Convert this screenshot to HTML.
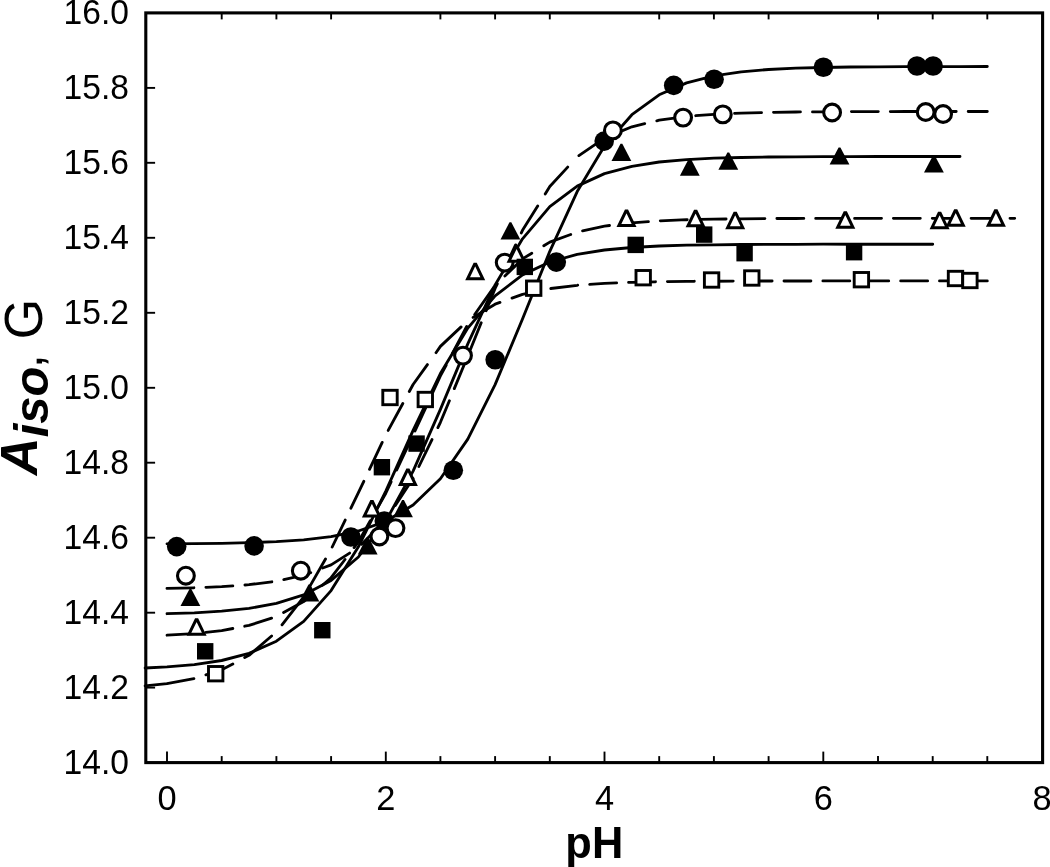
<!DOCTYPE html>
<html><head><meta charset="utf-8"><title>Aiso vs pH</title>
<style>html,body{margin:0;padding:0;background:#fff}svg{display:block}text{font-family:"Liberation Sans",sans-serif;fill:#000}</style></head><body>
<svg width="1050" height="867" viewBox="0 0 1050 867">
<rect width="1050" height="867" fill="#fff"/>
<g fill="none" stroke="#000" stroke-width="2.85" stroke-linecap="round" stroke-linejoin="round">
<polyline points="167.0,543.8 194.3,543.6 221.7,543.3 249.0,542.7 276.4,541.7 303.7,539.8 331.1,536.6 358.4,531.0 385.8,521.3 413.1,505.0 440.4,478.7 467.8,439.1 495.1,384.6 522.5,319.0 549.8,251.3 577.2,191.6 604.5,145.9 631.9,114.7 659.2,94.8 686.6,82.9 713.9,75.8 741.2,71.8 768.6,69.5 795.9,68.2 823.3,67.5 850.6,67.0 878.0,66.8 905.3,66.7 932.7,66.6 960.0,66.6 987.3,66.5"/>
<path d="M167.0,588.4 L193.9,587.8 M205.9,587.3 L221.7,586.7 L232.8,585.9 M244.9,585.0 L249.0,584.7 L271.8,581.8 M283.8,579.6 L303.7,575.2 L310.7,572.6 M322.7,568.0 L331.1,564.9 L349.6,553.1 M361.6,544.3 L385.8,519.9 L387.4,517.4 M395.3,505.4 L413.0,478.5 M418.9,466.5 L432.0,439.6 M437.9,427.6 L440.4,422.3 L449.4,400.7 M454.3,388.6 L465.4,361.7 M470.3,349.7 L481.2,322.8 M486.1,310.8 L495.1,288.5 L497.3,283.9 M503.0,271.8 L515.6,244.9 M521.3,232.9 L522.5,230.3 L537.7,206.0 M545.2,194.0 L549.8,186.5 L567.7,167.1 M578.9,155.6 L604.5,138.1 L605.8,137.5 M617.8,132.6 L631.9,126.8 L644.7,123.7 M656.8,120.8 L659.2,120.2 L683.7,116.8 M695.7,115.7 L713.9,114.3 L722.6,113.9 M734.6,113.4 L741.2,113.1 L761.5,112.6 M773.5,112.3 L795.9,112.0 L800.4,111.9 M812.5,111.9 L823.3,111.8 L839.4,111.7 M851.4,111.6 L878.0,111.6 L878.3,111.6 M890.3,111.6 L905.3,111.5 L917.2,111.5 M929.3,111.5 L932.7,111.5 L956.2,111.5 M968.2,111.5 L987.3,111.5"/>
<polyline points="167.0,613.7 194.3,612.8 221.7,611.2 249.0,608.4 276.4,603.4 303.7,594.9 331.1,580.4 358.4,557.0 385.8,521.2 413.1,471.1 440.4,409.4 467.8,343.9 495.1,284.9 522.5,238.8 549.8,206.7 577.2,186.1 604.5,173.6 631.9,166.3 659.2,162.0 686.6,159.6 713.9,158.2 741.2,157.5 768.6,157.0 795.9,156.8 823.3,156.6 850.6,156.6 878.0,156.5 905.3,156.5 932.7,156.5 960.0,156.5"/>
<path d="M167.0,635.2 L193.9,633.6 M205.8,632.3 L221.7,630.6 L232.8,628.5 M244.7,626.2 L249.0,625.4 L271.6,618.1 M283.6,612.6 L303.7,601.6 L310.5,595.8 M322.4,585.3 L331.1,577.7 L345.0,559.5 M354.1,547.6 L358.4,541.9 L370.3,520.7 M377.0,508.7 L385.8,493.2 L391.1,481.8 M396.7,469.9 L409.4,443.0 M415.0,431.0 L427.4,404.1 M432.9,392.2 L440.4,375.9 L446.1,365.3 M452.4,353.3 L466.7,326.4 M474.7,314.5 L493.6,287.6 M504.9,275.9 L522.5,258.9 L531.8,253.2 M543.8,245.8 L549.8,242.1 L570.7,234.5 M582.6,230.9 L604.5,226.2 L609.5,225.5 M621.5,224.1 L631.9,222.8 L648.4,221.6 M660.3,220.8 L686.6,219.7 L687.2,219.7 M699.2,219.4 L713.9,219.1 L726.1,219.0 M738.0,218.8 L741.2,218.8 L764.9,218.6 M776.9,218.5 L795.9,218.5 L803.8,218.4 M815.7,218.4 L823.3,218.4 L842.6,218.4 M854.6,218.4 L878.0,218.3 L881.5,218.3 M893.4,218.3 L905.3,218.3 L920.3,218.3 M932.3,218.3 L932.7,218.3 L959.2,218.3 M971.1,218.3 L987.3,218.3 L998.0,218.3 M1010.0,218.3 L1014.7,218.3"/>
<polyline points="145.1,668.0 167.0,666.9 194.3,664.6 221.7,660.5 249.0,653.3 276.4,641.2 303.7,621.4 331.1,590.6 358.4,546.8 385.8,491.1 413.1,430.3 440.4,373.6 467.8,328.1 495.1,295.8 522.5,274.9 549.8,262.0 577.2,254.4 604.5,250.0 631.9,247.5 659.2,246.0 686.6,245.2 713.9,244.8 741.2,244.5 768.6,244.4 795.9,244.3 823.3,244.2 850.6,244.2 878.0,244.2 905.3,244.2 932.7,244.2"/>
<path d="M145.1,685.9 L167.0,683.6 M167.0,683.6 L193.9,678.6 M205.9,674.9 L221.7,669.8 L232.8,664.0 M244.7,657.6 L249.0,655.3 L271.6,636.0 M282.0,624.8 L303.0,597.9 M310.1,585.9 L325.5,559.0 M332.2,547.0 L345.2,520.1 M350.9,508.2 L358.4,492.7 L363.8,481.3 M369.5,469.3 L382.2,442.4 M388.2,430.4 L402.8,403.5 M409.3,391.5 L413.1,384.5 L427.4,364.6 M436.0,352.7 L440.4,346.4 L461.1,326.9 M473.1,317.4 L495.1,304.2 L500.0,302.4 M512.0,298.1 L522.5,294.3 L538.9,290.9 M550.8,288.5 L577.2,285.3 L577.7,285.2 M589.7,284.4 L604.5,283.4 L616.6,282.9 M628.6,282.4 L631.9,282.3 L655.5,281.8 M667.4,281.6 L686.6,281.4 L694.3,281.3 M706.3,281.2 L713.9,281.2 L733.2,281.1 M745.2,281.0 L768.6,281.0 L772.1,281.0 M784.0,281.0 L795.9,281.0 L810.9,281.0 M822.9,280.9 L823.3,280.9 L849.8,280.9 M861.8,280.9 L878.0,280.9 L888.7,280.9 M900.7,280.9 L905.3,280.9 L927.6,280.9 M939.5,280.9 L960.0,280.9 L966.4,280.9 M978.4,280.9 L987.3,280.9"/>
</g>
<g stroke="#000" stroke-width="3" stroke-linejoin="miter">
<circle cx="176.7" cy="546.6" r="9.8" fill="#000" stroke="none"/>
<circle cx="254.1" cy="545.9" r="9.8" fill="#000" stroke="none"/>
<circle cx="350.9" cy="537.0" r="9.8" fill="#000" stroke="none"/>
<circle cx="384.3" cy="521.0" r="9.8" fill="#000" stroke="none"/>
<circle cx="453.3" cy="470.2" r="9.8" fill="#000" stroke="none"/>
<circle cx="495.2" cy="359.8" r="9.8" fill="#000" stroke="none"/>
<circle cx="556.3" cy="262.1" r="9.8" fill="#000" stroke="none"/>
<circle cx="604.2" cy="141.1" r="9.8" fill="#000" stroke="none"/>
<circle cx="673.7" cy="85.4" r="9.8" fill="#000" stroke="none"/>
<circle cx="714.1" cy="79.2" r="9.8" fill="#000" stroke="none"/>
<circle cx="823.4" cy="67.3" r="9.8" fill="#000" stroke="none"/>
<circle cx="917.0" cy="66.0" r="9.8" fill="#000" stroke="none"/>
<circle cx="933.1" cy="66.0" r="9.8" fill="#000" stroke="none"/>
<circle cx="185.9" cy="575.7" r="8.4" fill="#fff" stroke-width="3.1"/>
<circle cx="300.8" cy="570.7" r="8.4" fill="#fff" stroke-width="3.1"/>
<circle cx="379.4" cy="536.5" r="8.4" fill="#fff" stroke-width="3.1"/>
<circle cx="395.5" cy="528.1" r="8.4" fill="#fff" stroke-width="3.1"/>
<circle cx="463.0" cy="355.6" r="8.4" fill="#fff" stroke-width="3.1"/>
<circle cx="504.7" cy="262.6" r="8.4" fill="#fff" stroke-width="3.1"/>
<circle cx="612.9" cy="130.4" r="8.4" fill="#fff" stroke-width="3.1"/>
<circle cx="683.1" cy="117.6" r="8.4" fill="#fff" stroke-width="3.1"/>
<circle cx="722.8" cy="114.4" r="8.4" fill="#fff" stroke-width="3.1"/>
<circle cx="832.1" cy="112.5" r="8.4" fill="#fff" stroke-width="3.1"/>
<circle cx="925.7" cy="112.0" r="8.4" fill="#fff" stroke-width="3.1"/>
<circle cx="943.1" cy="114.0" r="8.4" fill="#fff" stroke-width="3.1"/>
<polygon points="189.5,588.9 191.3,588.9 200.3,606.1 180.5,606.1" fill="#000" stroke="none"/>
<polygon points="308.5,584.4 310.3,584.4 319.3,601.6 299.5,601.6" fill="#000" stroke="none"/>
<polygon points="366.8,537.3 368.6,537.3 377.6,554.5 357.8,554.5" fill="#000" stroke="none"/>
<polygon points="402.1,500.1 403.9,500.1 412.9,517.3 393.1,517.3" fill="#000" stroke="none"/>
<polygon points="509.5,222.3 511.3,222.3 520.3,239.5 500.5,239.5" fill="#000" stroke="none"/>
<polygon points="620.5,143.8 622.3,143.8 631.3,161.0 611.5,161.0" fill="#000" stroke="none"/>
<polygon points="688.9,158.5 690.7,158.5 699.7,175.7 679.9,175.7" fill="#000" stroke="none"/>
<polygon points="727.4,152.5 729.2,152.5 738.2,169.7 718.4,169.7" fill="#000" stroke="none"/>
<polygon points="838.6,147.4 840.4,147.4 849.4,164.6 829.6,164.6" fill="#000" stroke="none"/>
<polygon points="933.0,155.4 934.8,155.4 943.8,172.6 924.0,172.6" fill="#000" stroke="none"/>
<polygon points="196.0,619.8 197.2,619.8 204.2,634.2 189.0,634.2" fill="#fff"/>
<polygon points="371.3,501.6 372.5,501.6 379.5,516.0 364.3,516.0" fill="#fff"/>
<polygon points="407.3,470.1 408.5,470.1 415.5,484.6 400.3,484.6" fill="#fff"/>
<polygon points="474.6,264.2 475.8,264.2 482.8,278.8 467.6,278.8" fill="#fff"/>
<polygon points="516.0,246.8 517.2,246.8 524.2,261.2 509.0,261.2" fill="#fff"/>
<polygon points="625.9,211.1 627.1,211.1 634.1,225.6 618.9,225.6" fill="#fff"/>
<polygon points="695.0,211.3 696.2,211.3 703.2,225.8 688.0,225.8" fill="#fff"/>
<polygon points="734.6,213.2 735.8,213.2 742.8,227.7 727.6,227.7" fill="#fff"/>
<polygon points="844.7,212.8 845.9,212.8 852.9,227.3 837.7,227.3" fill="#fff"/>
<polygon points="939.0,213.2 940.2,213.2 947.2,227.7 932.0,227.7" fill="#fff"/>
<polygon points="955.1,210.8 956.3,210.8 963.3,225.3 948.1,225.3" fill="#fff"/>
<polygon points="995.3,210.8 996.5,210.8 1003.5,225.3 988.3,225.3" fill="#fff"/>
<rect x="197.0" y="643.1" width="16.4" height="16.4" fill="#000" stroke="none"/>
<rect x="314.1" y="622.0" width="16.4" height="16.4" fill="#000" stroke="none"/>
<rect x="373.7" y="459.0" width="16.4" height="16.4" fill="#000" stroke="none"/>
<rect x="408.4" y="435.4" width="16.4" height="16.4" fill="#000" stroke="none"/>
<rect x="516.6" y="258.7" width="16.4" height="16.4" fill="#000" stroke="none"/>
<rect x="627.5" y="236.7" width="16.4" height="16.4" fill="#000" stroke="none"/>
<rect x="696.0" y="226.4" width="16.4" height="16.4" fill="#000" stroke="none"/>
<rect x="736.4" y="245.0" width="16.4" height="16.4" fill="#000" stroke="none"/>
<rect x="845.9" y="244.0" width="16.4" height="16.4" fill="#000" stroke="none"/>
<rect x="208.5" y="666.5" width="14.4" height="14.4" fill="#fff" stroke-width="2.9"/>
<rect x="382.8" y="390.3" width="14.4" height="14.4" fill="#fff" stroke-width="2.9"/>
<rect x="418.1" y="392.3" width="14.4" height="14.4" fill="#fff" stroke-width="2.9"/>
<rect x="526.5" y="281.0" width="14.4" height="14.4" fill="#fff" stroke-width="2.9"/>
<rect x="636.0" y="270.5" width="14.4" height="14.4" fill="#fff" stroke-width="2.9"/>
<rect x="704.4" y="272.8" width="14.4" height="14.4" fill="#fff" stroke-width="2.9"/>
<rect x="744.6" y="270.8" width="14.4" height="14.4" fill="#fff" stroke-width="2.9"/>
<rect x="854.2" y="272.5" width="14.4" height="14.4" fill="#fff" stroke-width="2.9"/>
<rect x="948.3" y="271.3" width="14.4" height="14.4" fill="#fff" stroke-width="2.9"/>
<rect x="962.7" y="273.3" width="14.4" height="14.4" fill="#fff" stroke-width="2.9"/>
</g>
<rect x="145.8" y="12.9" width="896.8" height="749.7" fill="none" stroke="#000" stroke-width="3.1"/>
<g stroke="#000" stroke-width="1.9">
<line x1="167.0" y1="762.6" x2="167.0" y2="751.6"/>
<line x1="221.7" y1="762.6" x2="221.7" y2="756.1"/>
<line x1="221.7" y1="12.9" x2="221.7" y2="19.4"/>
<line x1="276.4" y1="762.6" x2="276.4" y2="756.1"/>
<line x1="276.4" y1="12.9" x2="276.4" y2="19.4"/>
<line x1="331.1" y1="762.6" x2="331.1" y2="756.1"/>
<line x1="331.1" y1="12.9" x2="331.1" y2="19.4"/>
<line x1="385.8" y1="762.6" x2="385.8" y2="751.6"/>
<line x1="440.4" y1="762.6" x2="440.4" y2="756.1"/>
<line x1="440.4" y1="12.9" x2="440.4" y2="19.4"/>
<line x1="495.1" y1="762.6" x2="495.1" y2="756.1"/>
<line x1="495.1" y1="12.9" x2="495.1" y2="19.4"/>
<line x1="549.8" y1="762.6" x2="549.8" y2="756.1"/>
<line x1="549.8" y1="12.9" x2="549.8" y2="19.4"/>
<line x1="604.5" y1="762.6" x2="604.5" y2="751.6"/>
<line x1="659.2" y1="762.6" x2="659.2" y2="756.1"/>
<line x1="659.2" y1="12.9" x2="659.2" y2="19.4"/>
<line x1="713.9" y1="762.6" x2="713.9" y2="756.1"/>
<line x1="713.9" y1="12.9" x2="713.9" y2="19.4"/>
<line x1="768.6" y1="762.6" x2="768.6" y2="756.1"/>
<line x1="768.6" y1="12.9" x2="768.6" y2="19.4"/>
<line x1="823.3" y1="762.6" x2="823.3" y2="751.6"/>
<line x1="878.0" y1="762.6" x2="878.0" y2="756.1"/>
<line x1="878.0" y1="12.9" x2="878.0" y2="19.4"/>
<line x1="932.7" y1="762.6" x2="932.7" y2="756.1"/>
<line x1="932.7" y1="12.9" x2="932.7" y2="19.4"/>
<line x1="987.3" y1="762.6" x2="987.3" y2="756.1"/>
<line x1="987.3" y1="12.9" x2="987.3" y2="19.4"/>
<line x1="145.8" y1="687.6" x2="155.1" y2="687.6"/>
<line x1="145.8" y1="612.7" x2="155.1" y2="612.7"/>
<line x1="145.8" y1="537.7" x2="155.1" y2="537.7"/>
<line x1="145.8" y1="462.7" x2="155.1" y2="462.7"/>
<line x1="145.8" y1="387.8" x2="155.1" y2="387.8"/>
<line x1="145.8" y1="312.8" x2="155.1" y2="312.8"/>
<line x1="145.8" y1="237.8" x2="155.1" y2="237.8"/>
<line x1="145.8" y1="162.8" x2="155.1" y2="162.8"/>
<line x1="145.8" y1="87.9" x2="155.1" y2="87.9"/>
</g>
<g>
<text transform="translate(128.9,773.8) scale(1,1.04)" font-size="33.6" text-anchor="end">14.0</text>
<text transform="translate(128.9,698.8) scale(1,1.04)" font-size="33.6" text-anchor="end">14.2</text>
<text transform="translate(128.9,623.9) scale(1,1.04)" font-size="33.6" text-anchor="end">14.4</text>
<text transform="translate(128.9,548.9) scale(1,1.04)" font-size="33.6" text-anchor="end">14.6</text>
<text transform="translate(128.9,473.9) scale(1,1.04)" font-size="33.6" text-anchor="end">14.8</text>
<text transform="translate(128.9,398.9) scale(1,1.04)" font-size="33.6" text-anchor="end">15.0</text>
<text transform="translate(128.9,324.0) scale(1,1.04)" font-size="33.6" text-anchor="end">15.2</text>
<text transform="translate(128.9,249.0) scale(1,1.04)" font-size="33.6" text-anchor="end">15.4</text>
<text transform="translate(128.9,174.0) scale(1,1.04)" font-size="33.6" text-anchor="end">15.6</text>
<text transform="translate(128.9,99.1) scale(1,1.04)" font-size="33.6" text-anchor="end">15.8</text>
<text transform="translate(128.9,24.1) scale(1,1.04)" font-size="33.6" text-anchor="end">16.0</text>
<text transform="translate(167.0,809.9) scale(1,1.04)" font-size="34.4" text-anchor="middle">0</text>
<text transform="translate(385.8,809.9) scale(1,1.04)" font-size="34.4" text-anchor="middle">2</text>
<text transform="translate(604.5,809.9) scale(1,1.04)" font-size="34.4" text-anchor="middle">4</text>
<text transform="translate(823.3,809.9) scale(1,1.04)" font-size="34.4" text-anchor="middle">6</text>
<text transform="translate(1042.0,809.9) scale(1,1.04)" font-size="34.4" text-anchor="middle">8</text>
</g>
<text transform="translate(594.3,857.7) scale(1,1.035)" text-anchor="middle" font-size="43.4" font-weight="bold">pH</text>
<g transform="rotate(-90)">
<text x="-475.2" y="36.8" font-size="52.4" font-weight="bold" font-style="italic">A</text>
<text x="-437.3" y="48.2" font-size="49" font-weight="bold" font-style="italic">iso</text>
<text x="-368.3" y="42.3" font-size="50">,</text>
<text transform="translate(-339.3,41.7) scale(1,1.045)" font-size="52">G</text>
</g>
</svg></body></html>
